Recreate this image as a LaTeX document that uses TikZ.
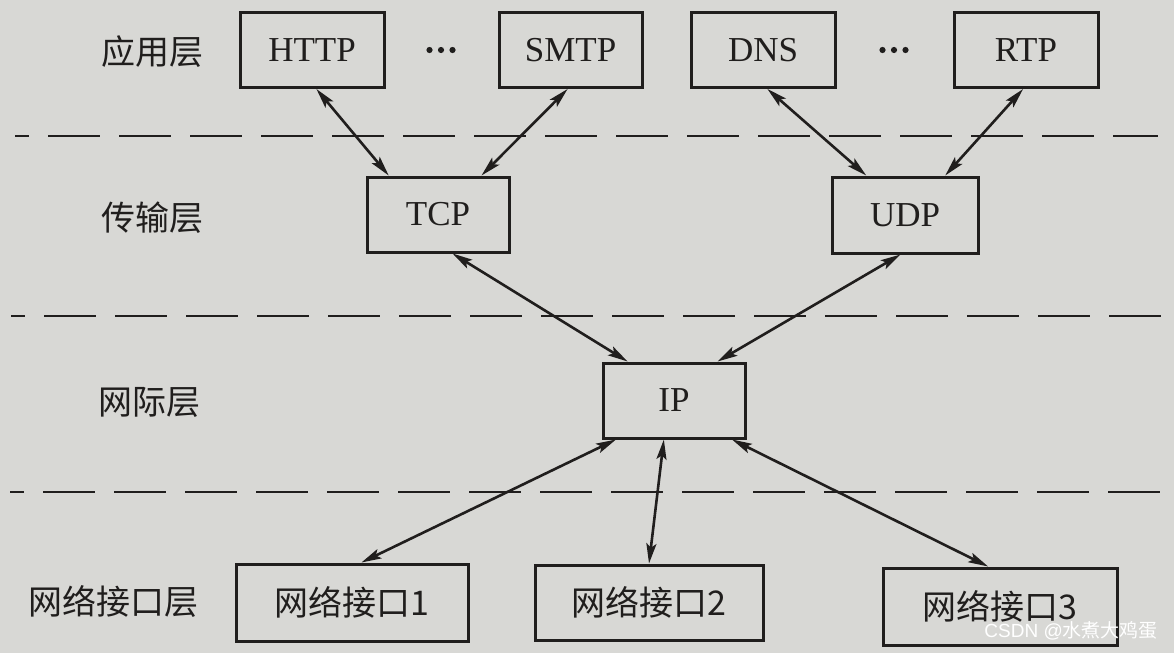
\documentclass[tikz,border=0pt]{standalone}
\usepackage{fontspec}
\setmainfont{Liberation Serif}
\newfontfamily\cjk{Noto Sans CJK SC}
\newfontfamily\wmfont{Liberation Sans}
\usetikzlibrary{arrows.meta,calc}
\definecolor{paper}{RGB}{216,216,213}
\definecolor{ink}{RGB}{32,30,29}
\tikzset{
  box/.style={draw=ink, line width=3pt, rectangle, inner sep=0pt, minimum height=75pt, text=ink,
    font=\fontsize{35}{38}\selectfont},
  pbox/.style={box, minimum width=144pt},
  cbox/.style={box, minimum width=232pt, minimum height=77pt, font=\cjk\fontsize{34}{38}\selectfont},
  layer/.style={text=ink, inner sep=0pt, font=\cjk\fontsize{34}{38}\selectfont},
  sep/.style={draw=ink, line width=2.8pt, dash pattern=on 52pt off 19pt, dash phase=38pt},
  link/.style={draw=ink, line width=2.6pt, {Stealth[length=20pt,width=10pt,inset=4pt]}-{Stealth[length=20pt,width=10pt,inset=4pt]}},
  dotmark/.style={inner sep=0pt, minimum size=0pt},
}
\begin{document}
\begin{tikzpicture}[x=1pt,y=-1pt]
\fill[paper] (0,0) rectangle (1174,653);
\useasboundingbox (0,0) rectangle (1174,653);

% separators
\coordinate (s1a) at (15,136);  \coordinate (s1b) at (1158,136);
\coordinate (s2a) at (11,316);  \coordinate (s2b) at (1161,316);
\coordinate (s3a) at (10,492);  \coordinate (s3b) at (1161,492);
\draw[sep] (s1a) -- (s1b);
\draw[sep] (s2a) -- (s2b);
\draw[sep] (s3a) -- (s3b);

% layer labels
\node[layer] (Lapp) at (152,52) {应用层};
\node[layer] (Ltr)  at (152,218) {传输层};
\node[layer] (Lnet) at (149,402) {网际层};
\node[layer] (Lif)  at (113,602) {网络接口层};

% application layer
\node[pbox] (HTTP) at (312,50) {HTTP};
\node[pbox, minimum width=143pt] (SMTP) at (570.5,50) {SMTP};
\node[pbox] (DNS) at (763,50) {DNS};
\node[pbox] (RTP) at (1026,50) {RTP};
\node[dotmark] (dots1) at (441,50) {};
\node[dotmark] (dots2) at (894,50) {};
\foreach \d in {dots1,dots2}{
  \fill[ink] (\d) circle (3.1pt);
  \fill[ink] ($(\d)+(-11.5,0)$) circle (3.1pt);
  \fill[ink] ($(\d)+(11.5,0)$) circle (3.1pt);
}

% transport layer
\node[pbox, minimum width=142pt] (TCP) at (438,214.5) {TCP};
\node[pbox, minimum width=146pt, minimum height=76pt] (UDP) at (905,215) {UDP};

% internet layer
\node[pbox, minimum width=142pt] (IP) at (674,400.5) {IP};

% network interface layer
\node[cbox] (N1) at (352,602.5) {网络接口1};
\node[cbox, minimum width=228pt, minimum height=75pt] (N2) at (649,602.5) {网络接口2};
\node[cbox, minimum width=234pt] (N3) at (1000,606.5) {网络接口3};

% connectors
\draw[link] ($(HTTP.south west)!0.53!(HTTP.south east)$) -- ($(TCP.north west)!0.16!(TCP.north east)$);
\draw[link] ($(SMTP.south west)!0.48!(SMTP.south east)$) -- ($(TCP.north west)!0.80!(TCP.north east)$);
\draw[link] ($(DNS.south west)!0.53!(DNS.south east)$) -- ($(UDP.north west)!0.24!(UDP.north east)$);
\draw[link] ($(RTP.south west)!0.48!(RTP.south east)$) -- ($(UDP.north west)!0.77!(UDP.north east)$);
\draw[link] ($(TCP.south west)!0.60!(TCP.south east)$) -- ($(IP.north west)!0.18!(IP.north east)$);
\draw[link] ($(UDP.south west)!0.47!(UDP.south east)$) -- ($(IP.north west)!0.80!(IP.north east)$);
\draw[link] ($(IP.south west)!0.10!(IP.south east)$) -- ($(N1.north west)!0.54!(N1.north east)$);
\draw[link] ($(IP.south west)!0.43!(IP.south east)$) -- ($(N2.north west)!0.50!(N2.north east)$);
\draw[link] ($(IP.south west)!0.90!(IP.south east)$) -- ($(N3.north west)!0.45!(N3.north east)$);

% watermark
\node[text=white, inner sep=0pt, anchor=east, font=\fontsize{19}{21}\selectfont] (wm) at (1158,631) {{\wmfont CSDN @}{\cjk 水煮大鸡蛋}};
\end{tikzpicture}
\end{document}
